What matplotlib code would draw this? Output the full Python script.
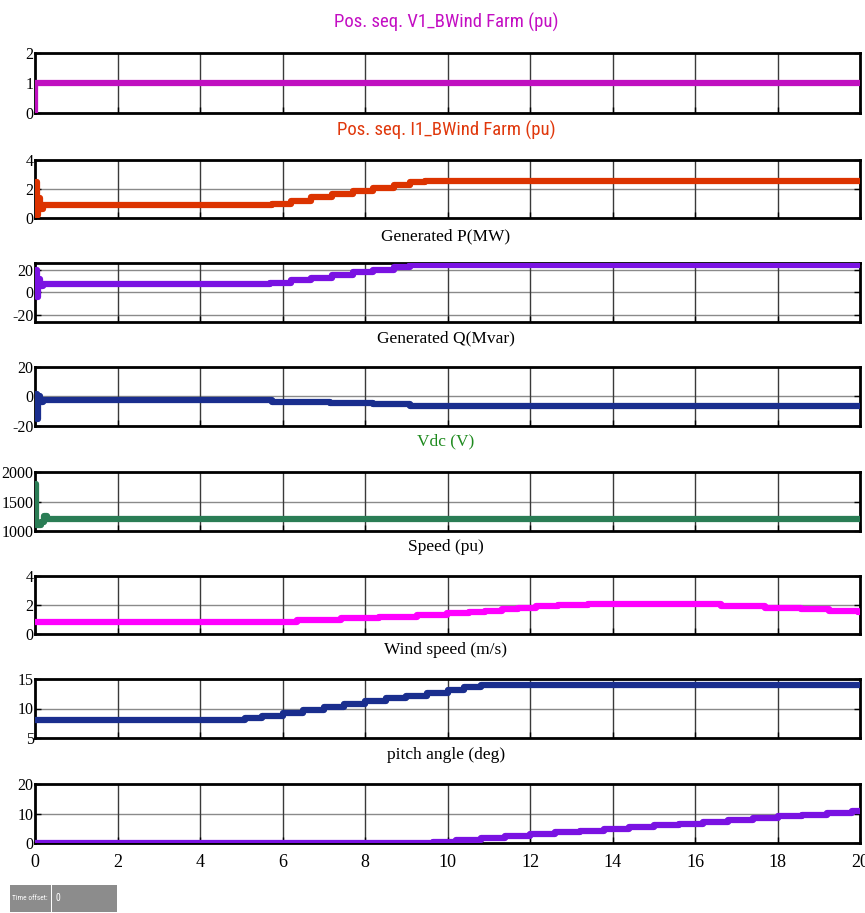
import matplotlib
matplotlib.use('Agg')
import matplotlib.pyplot as plt
from matplotlib import font_manager
from matplotlib.patches import Rectangle

plt.rcParams['axes.unicode_minus'] = False

# ---- data (step times in s, values) ----
t_v1 = [0, 0.01, 20]
v1 = [0, 1.0, 1.0]

t_i1 = [0, 0.02, 0.05, 0.08, 0.12, 0.2, 5.74, 6.2, 6.7, 7.2, 7.7, 8.2, 8.7, 9.1, 9.45, 20]
i1 = [0, 2.5, 0.2, 1.4, 0.6, 0.9, 1.0, 1.2, 1.43, 1.65, 1.87, 2.1, 2.3, 2.45, 2.55, 2.55]

t_p = [0, 0.02, 0.05, 0.08, 0.12, 0.2, 5.7, 6.2, 6.7, 7.2, 7.7, 8.2, 8.7, 9.1, 9.4, 20]
p = [0, 20, -4, 12, 6, 7.5, 8.6, 10.9, 13.2, 15.5, 17.8, 20.1, 22.2, 23.8, 24.5, 24.5]

t_q = [0, 0.02, 0.05, 0.08, 0.12, 0.2, 5.75, 7.15, 8.2, 9.1, 20]
q = [0, 2, -15, 0, -4, -2.3, -3.7, -4.6, -5.1, -6.4, -6.4]

t_vdc = [0, 0.01, 0.03, 0.15, 0.22, 0.3, 20]
vdc = [1800, 1800, 1100, 1150, 1250, 1210, 1210]

t_speed = [0, 6.34, 7.41, 8.34, 9.26, 9.99, 10.53, 10.92, 11.31, 11.70, 12.14, 12.68,
           13.41, 16.63, 17.70, 18.58, 19.26, 19.95, 20]
speed = [0.85, 0.96, 1.07, 1.19, 1.30, 1.42, 1.53, 1.62, 1.71, 1.81, 1.90, 1.97,
         2.06, 1.92, 1.81, 1.69, 1.60, 1.55, 1.55]

t_wind = [0, 5.1, 5.5, 6.0, 6.5, 7.0, 7.5, 8.0, 8.5, 9.0, 9.5, 10.0, 10.4, 10.8, 20]
wind = [8, 8.4, 8.8, 9.3, 9.8, 10.3, 10.8, 11.3, 11.8, 12.2, 12.7, 13.2, 13.6, 14, 14]

t_pitch = [0, 9.65, 10.2, 10.8, 11.4, 12.0, 12.6, 13.2, 13.8, 14.4, 15.0, 15.6,
           16.2, 16.8, 17.4, 18.0, 18.6, 19.2, 19.8, 20]
pitch = [0, 0.4, 1.0, 1.6, 2.3, 2.9, 3.6, 4.2, 4.8, 5.4, 6.0, 6.6,
         7.2, 7.8, 8.4, 9.0, 9.6, 10.2, 10.7, 10.7]

titles = ['Pos. seq. V1_BWind Farm (pu)', 'Pos. seq. I1_BWind Farm (pu)',
          'Generated P(MW)', 'Generated Q(Mvar)', 'Vdc (V)', 'Speed (pu)',
          'Wind speed (m/s)', 'pitch angle (deg)']
title_colors = ['#c30ec3', '#e0380c', 'black', 'black', '#1e8a1e', 'black', 'black', 'black']
line_colors = ['#c010c0', '#dc3300', '#7a12e2', '#1a2e8e', '#2a7d55', '#ff00ff', '#1a2e8e', '#7a12e2']
ylims = [(0, 2), (0, 4), (-26, 26), (-20, 20), (1000, 2000), (0, 4), (5, 15), (0, 20)]
yticks = [[0, 1, 2], [0, 2, 4], [-20, 0, 20], [-20, 0, 20], [1000, 1500, 2000],
          [0, 2, 4], [5, 10, 15], [0, 10, 20]]
xticks = [0, 2, 4, 6, 8, 10, 12, 14, 16, 18, 20]

series = [(t_v1, v1), (t_i1, i1), (t_p, p), (t_q, q), (t_vdc, vdc),
          (t_speed, speed), (t_wind, wind), (t_pitch, pitch)]

# pixel layout (top, bottom) of each panel and title centre
W, H = 865, 913
panels = [(53, 113), (160, 218), (263, 322), (367, 426), (472, 531),
          (576, 634), (679, 738), (784, 843)]
title_y = [22, 130, 236, 338, 441, 547, 650, 755]

names = {f.name for f in font_manager.fontManager.ttflist}
sans = 'Liberation Sans'
for cand in ['Liberation Sans Narrow', 'Roboto Condensed', 'Open Sans Condensed', 'Arial Narrow']:
    if cand in names:
        sans = cand
        break
serif = 'Liberation Serif'

fig = plt.figure(figsize=(W / 100, H / 100), dpi=100)
fig.patch.set_facecolor('white')

for i, (top, bot) in enumerate(panels):
    ax = fig.add_axes([35 / W, 1 - bot / H, 825 / W, (bot - top) / H])
    t, y = series[i]
    ax.plot(t, y, drawstyle='steps-post', color=line_colors[i], lw=4.5,
            solid_capstyle='butt', zorder=3)
    ax.set_xlim(0, 20)
    ax.set_ylim(*ylims[i])
    ax.set_yticks(yticks[i])
    ax.set_xticks(xticks)
    for yy in yticks[i]:
        ax.axhline(yy, color='#8a8a8a', lw=1, zorder=1)
    for xx in xticks[1:-1]:
        ax.axvline(xx, color='#3a3a3a', lw=1, zorder=1)
    for s in ax.spines.values():
        s.set_linewidth(2)
    ax.tick_params(direction='in', length=4, width=1, labelsize=11.5, pad=1,
                   right=True)
    for lab in ax.get_yticklabels():
        lab.set_family(serif)
    if i < 7:
        ax.set_xticklabels([])
    else:
        for lab in ax.get_xticklabels():
            lab.set_family(serif)
        ax.tick_params(axis='x', labelsize=13, pad=8)
    fam = sans if i < 2 else serif
    fs = 13.5 if i < 2 else 12.5
    fig.text(446 / W, 1 - title_y[i] / H, titles[i], ha='center', va='center',
             color=title_colors[i], family=fam, fontsize=fs)

# "Time offset" box in the lower left corner
fig.patches.append(Rectangle((10 / W, 1 - 912 / H), 107 / W, 27 / H,
                             transform=fig.transFigure, facecolor='#8c8c8c',
                             edgecolor='none'))
fig.patches.append(Rectangle((51 / W, 1 - 912 / H), 1.2 / W, 27 / H,
                             transform=fig.transFigure, facecolor='white',
                             edgecolor='none'))
fig.text(12 / W, 1 - 898 / H, 'Time offset:', color='white', fontsize=5.3,
         family=sans, va='center')
fig.text(55 / W, 1 - 898 / H, '0', color='white', fontsize=7,
         family=sans, va='center')

fig.savefig('out.png', dpi=100)
